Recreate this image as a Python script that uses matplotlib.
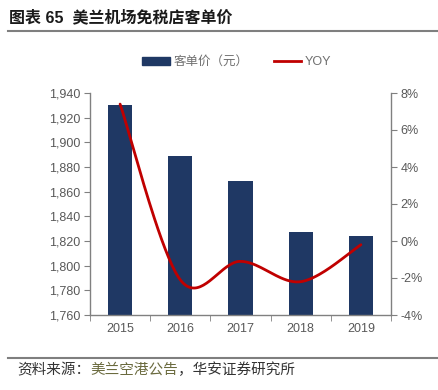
import numpy as np
import matplotlib
matplotlib.use("Agg")
import matplotlib.pyplot as plt
from matplotlib.ticker import FuncFormatter, FixedLocator
from matplotlib.lines import Line2D
from matplotlib.patches import Patch

plt.rcParams['font.family'] = ['Liberation Sans', 'Noto Sans CJK SC', 'DejaVu Sans']

# data
years = ['2015', '2016', '2017', '2018', '2019']
price = [1930, 1889, 1869, 1827, 1824]
yoy = [7.4, -2.1, -1.1, -2.2, -0.2]

bar_color = '#1F3864'
line_color = '#C00000'
grey = '#595959'
spine_c = '#808080'


def smooth(xs, ys, n=40):
    # catmull-rom, similar to excel "smoothed line"
    xs = np.asarray(xs, float)
    ys = np.asarray(ys, float)
    px = np.concatenate([[xs[0]], xs, [xs[-1]]])
    py = np.concatenate([[ys[0]], ys, [ys[-1]]])
    outx, outy = [], []
    t = np.linspace(0, 1, n)
    for i in range(1, len(px) - 2):
        p0x, p1x, p2x, p3x = px[i - 1], px[i], px[i + 1], px[i + 2]
        p0y, p1y, p2y, p3y = py[i - 1], py[i], py[i + 1], py[i + 2]
        c1x = p1x + (p2x - p0x) / 6
        c1y = p1y + (p2y - p0y) / 6
        c2x = p2x - (p3x - p1x) / 6
        c2y = p2y - (p3y - p1y) / 6
        bx = (1 - t) ** 3 * p1x + 3 * (1 - t) ** 2 * t * c1x + 3 * (1 - t) * t ** 2 * c2x + t ** 3 * p2x
        by = (1 - t) ** 3 * p1y + 3 * (1 - t) ** 2 * t * c1y + 3 * (1 - t) * t ** 2 * c2y + t ** 3 * p2y
        outx += list(bx)
        outy += list(by)
    return outx, outy


fig = plt.figure(figsize=(4.39, 3.90), dpi=100)
ax = fig.add_axes([90 / 439, 75 / 390, 301 / 439, 222 / 390])
ax2 = ax.twinx()

x = np.arange(len(years))
ax.bar(x, price, width=0.4, color=bar_color, zorder=2)
ax.set_ylim(1760, 1940)
ax.set_yticks(np.arange(1760, 1941, 20))
ax.yaxis.set_major_formatter(FuncFormatter(lambda v, p: f'{int(v):,}'))
ax.set_xlim(-0.5, 4.5)
ax.set_xticks(x)
ax.set_xticklabels(years)
ax.xaxis.set_minor_locator(FixedLocator(np.arange(-0.5, 4.6, 1)))
ax.tick_params(axis='x', which='major', length=0, pad=6, labelsize=9, labelcolor=grey)
ax.tick_params(axis='x', which='minor', length=4, color=spine_c, direction='out')
ax.tick_params(axis='y', length=4, color=spine_c, labelsize=9, labelcolor=grey, pad=3)

sx, sy = smooth(x, yoy)
ax2.plot(sx, sy, color=line_color, lw=2, solid_capstyle='round', zorder=3)
ax2.set_ylim(-4, 8)
ax2.set_yticks(np.arange(-4, 8.1, 2))
ax2.yaxis.set_major_formatter(FuncFormatter(lambda v, p: f'{int(v)}%'))
ax2.tick_params(axis='y', length=4, color=spine_c, labelsize=9, labelcolor=grey, pad=3)

for a in (ax, ax2):
    a.spines['top'].set_visible(False)
    for s in ('left', 'right', 'bottom'):
        a.spines[s].set_color(spine_c)
        a.spines[s].set_linewidth(1)
ax.spines['right'].set_visible(False)
ax2.spines['left'].set_visible(False)
ax2.spines['bottom'].set_visible(False)

handles = [Patch(color=bar_color, label='客单价（元）'),
           Line2D([], [], color=line_color, lw=2, label='YOY')]
fig.legend(handles=handles, loc='center', bbox_to_anchor=(237 / 439, 1 - 62 / 390),
           ncol=2, frameon=False, fontsize=9, labelcolor='#6f6f6f',
           handlelength=2.2, handleheight=0.6, columnspacing=2.0, handletextpad=0.3)

# title and source
fig.text(9 / 439, 1 - 17 / 390, '图表 65  美兰机场免税店客单价', fontsize=11.5, fontweight='bold',
         color='#1a1a1a', va='center', ha='left')
fig.add_artist(Line2D([8 / 439, 1], [1 - 31 / 390, 1 - 31 / 390], color='#7f7f7f', lw=1.5))
fig.add_artist(Line2D([8 / 439, 1], [1 - 358 / 390, 1 - 358 / 390], color='#7f7f7f', lw=1.5))

t1 = fig.text(17 / 439, 1 - 370 / 390, '资料来源：', fontsize=10.5, color='#333333',
              va='center', ha='left')
t2 = ax.annotate('美兰空港公告', xy=(1, 0.5), xycoords=t1, va='center', ha='left',
                 fontsize=10.5, color='#6b6b3f', annotation_clip=False)
t3 = ax.annotate('，华安证券研究所', xy=(1, 0.5), xycoords=t2, va='center', ha='left',
                 fontsize=10.5, color='#333333', annotation_clip=False)

fig.savefig('out.png', dpi=100)
